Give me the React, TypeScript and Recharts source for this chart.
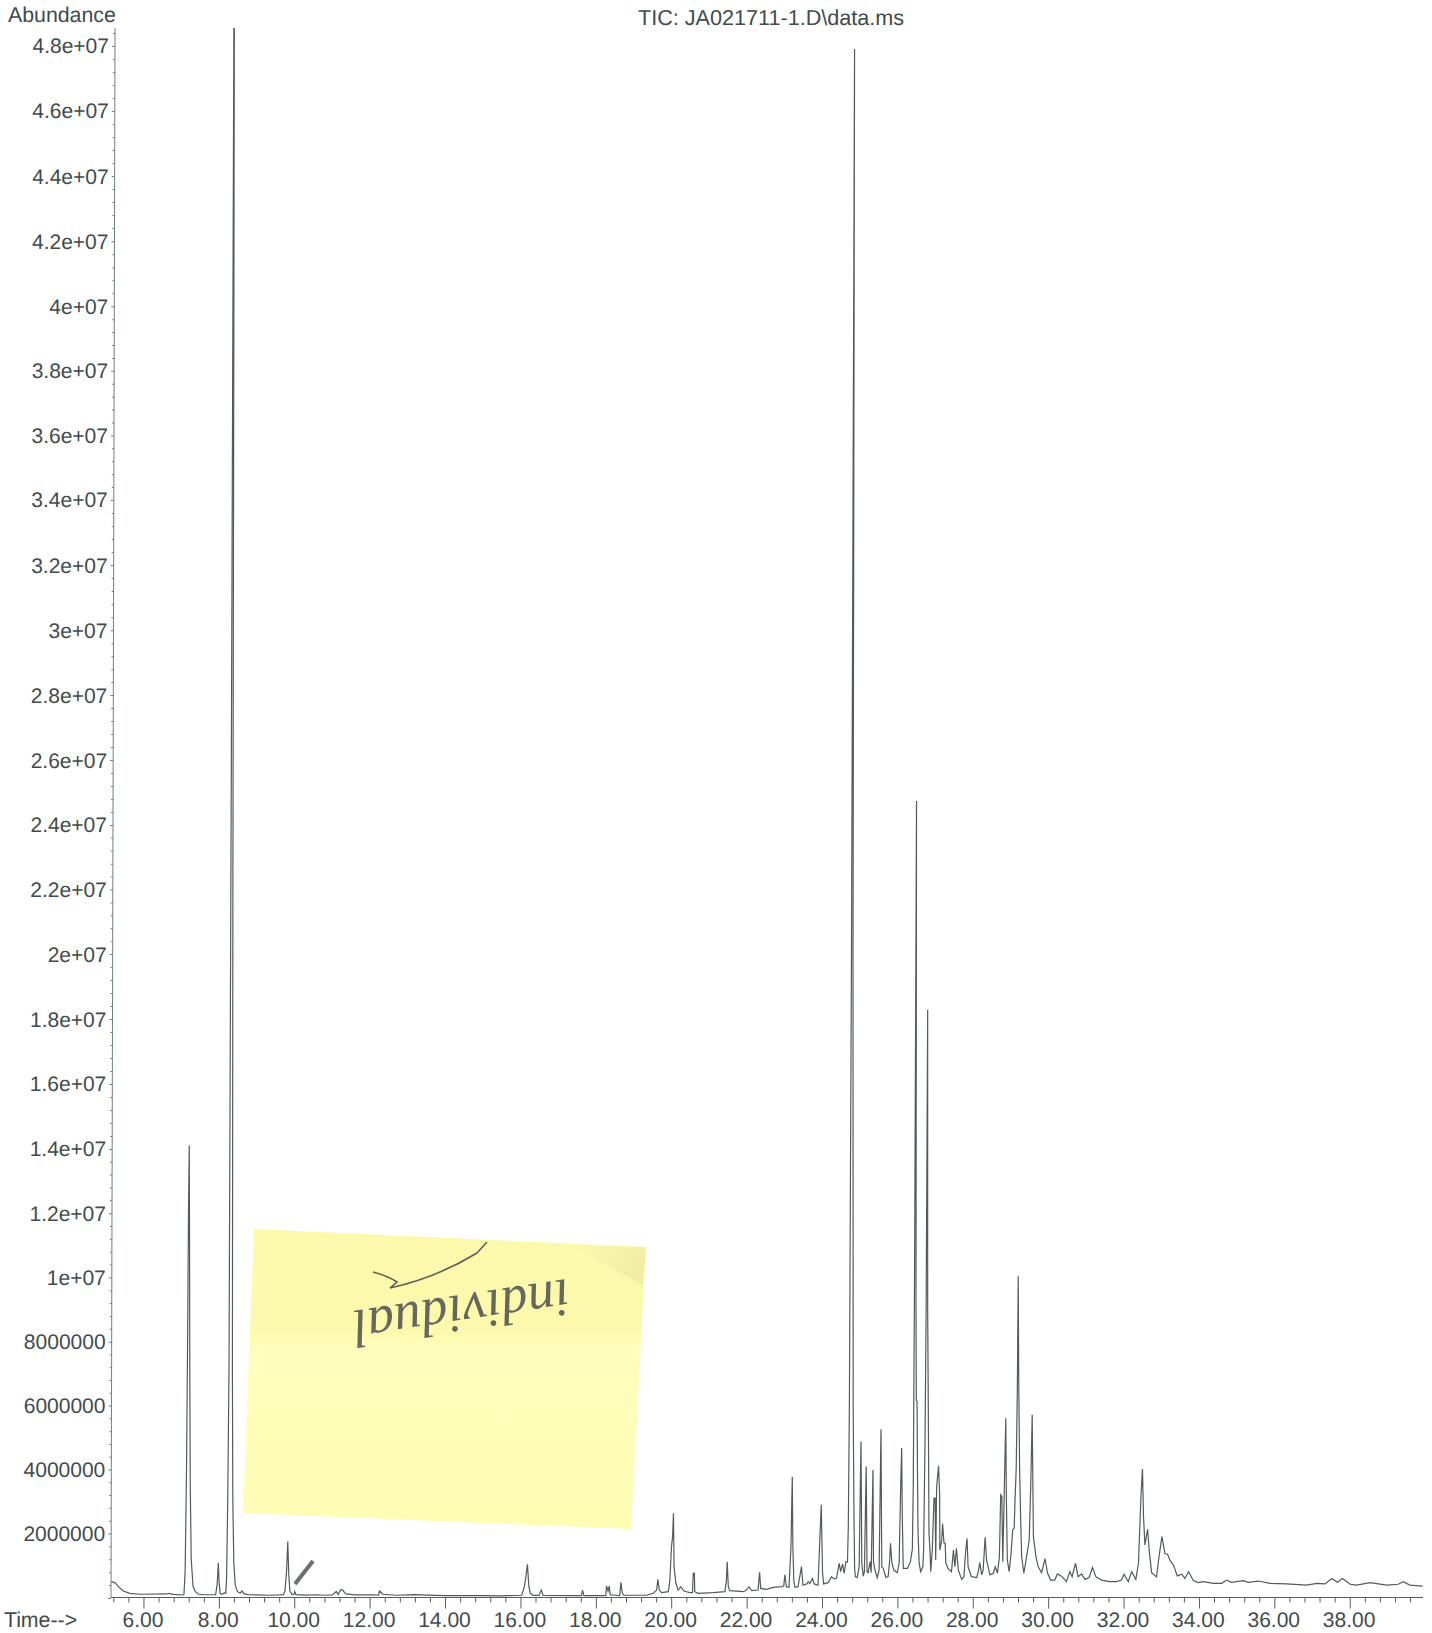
import { ComposedChart, Line, XAxis, YAxis } from "recharts";

// abundance in thousands of counts as [minutes, kcounts]
const solventRegion = [
  [5.12, 490], [5.23, 460], [5.32, 336], [5.45, 201], [5.63, 129], [5.89, 100], [6.6, 110], [6.65, 130], [6.78, 95], [7.04, 78],
  [7.06, 100], [7.09, 800], [7.12, 4000], [7.14, 8000], [7.155, 12000], [7.17, 14000], [7.185, 11000], [7.2, 7000], [7.22, 3500],
  [7.25, 1200], [7.3, 350], [7.36, 180], [7.45, 100], [7.6, 85], [7.9, 85], [7.94, 400], [7.97, 1070], [7.99, 500], [8.02, 120],
  [8.07, 100], [8.13, 140], [8.17, 130], [8.19, 600], [8.215, 3000], [8.24, 7000], [8.26, 25000], [8.278, 48600], [8.29, 48600],
  [8.31, 22000], [8.33, 7000], [8.35, 3000], [8.38, 1100], [8.42, 380], [8.48, 180], [8.55, 140], [8.6, 200], [8.65, 120], [8.75, 90],
];

const lightRegion = [
  [9.0, 80], [9.3, 70], [9.6, 80], [9.7, 90], [9.74, 200], [9.78, 800], [9.81, 1730], [9.84, 700], [9.87, 200], [9.93, 90], [9.98, 100],
  [10.0, 180], [10.03, 90], [10.3, 75], [10.6, 85], [10.8, 70], [11.0, 80], [11.1, 190], [11.15, 90], [11.22, 240], [11.27, 230], [11.35, 110],
  [11.6, 80], [12.1, 80], [12.22, 70], [12.25, 200], [12.33, 100], [12.7, 70], [13.0, 80], [13.2, 90], [13.5, 75], [14.0, 60], [14.5, 60],
  [15.0, 55], [15.4, 50], [16.02, 70], [16.09, 335], [16.13, 645], [16.17, 1030], [16.21, 335], [16.25, 130], [16.32, 65], [16.48, 65],
  [16.54, 230], [16.59, 65], [17.4, 55], [17.61, 60], [17.63, 230], [17.67, 60], [18.1, 55], [18.25, 60], [18.27, 355], [18.31, 200],
  [18.34, 355], [18.37, 80], [18.5, 70], [18.62, 60], [18.65, 470], [18.69, 130], [18.73, 70], [19.33, 70], [19.51, 130], [19.6, 230],
  [19.63, 560], [19.67, 230], [19.73, 150], [19.91, 180], [19.95, 540], [19.99, 1570], [20.02, 1900], [20.04, 2610], [20.06, 960], [20.11, 440],
];

const midRegion = [
  [20.17, 230], [20.24, 335], [20.32, 200], [20.48, 150], [20.55, 150], [20.57, 750], [20.6, 750], [20.61, 180], [20.7, 130], [21.1, 150],
  [21.41, 180], [21.45, 540], [21.47, 1110], [21.5, 335], [21.54, 210], [21.9, 180], [21.98, 230], [22.05, 335], [22.12, 210], [22.29, 230],
  [22.33, 780], [22.36, 280], [22.51, 250], [22.69, 315], [22.91, 335], [22.97, 355], [23.0, 700], [23.04, 335], [23.11, 315], [23.16, 1570],
  [23.19, 3735], [23.21, 1570], [23.24, 490], [23.27, 315], [23.35, 335], [23.44, 955], [23.48, 380], [23.58, 420], [23.62, 490], [23.66, 430],
  [23.73, 590], [23.78, 420], [23.88, 380], [23.96, 2870], [24.0, 750], [24.03, 420], [24.15, 460], [24.24, 645], [24.3, 575], [24.37, 595],
  [24.44, 1060], [24.48, 800], [24.53, 1040], [24.57, 750], [24.62, 1110], [24.66, 1100],
];

const denseRegion = [
  [24.68, 2200], [24.7, 6000], [24.725, 20000], [24.745, 47950], [24.765, 20000], [24.8, 6000], [24.83, 2500], [24.85, 900], [24.87, 640],
  [24.92, 620], [24.97, 950], [25.01, 4830], [25.04, 1060], [25.08, 660], [25.11, 800], [25.15, 4055], [25.18, 800], [25.21, 770], [25.26, 1110],
  [25.29, 770], [25.33, 3950], [25.35, 1110], [25.39, 850], [25.45, 615], [25.5, 850], [25.54, 5210], [25.57, 950], [25.61, 900], [25.68, 620],
  [25.74, 645], [25.78, 1160], [25.8, 1680], [25.84, 1060], [25.89, 850], [25.98, 770], [26.03, 1060], [26.07, 3640], [26.09, 4625], [26.11, 2600],
  [26.14, 900], [26.25, 900], [26.33, 1110], [26.38, 1500], [26.4, 3500], [26.42, 10000], [26.44, 24660], [26.46, 9000], [26.475, 6100],
  [26.495, 6070], [26.51, 3960], [26.53, 2000], [26.56, 1100], [26.6, 800], [26.66, 950], [26.68, 1500], [26.71, 5000], [26.73, 9000],
  [26.75, 18200], [26.77, 9000], [26.8, 5000], [26.82, 2000], [26.85, 1420], [26.87, 800], [26.91, 1500], [26.95, 3075], [26.98, 3075],
  [27.0, 1160], [27.02, 3430], [27.07, 4075], [27.1, 3200], [27.11, 1470], [27.16, 1780], [27.18, 2290], [27.22, 1680], [27.25, 1680], [27.27, 1060],
  [27.33, 900], [27.42, 800], [27.47, 1470], [27.51, 950], [27.55, 1520], [27.6, 850], [27.69, 560], [27.75, 645], [27.79, 1370], [27.83, 1830],
  [27.86, 950], [27.95, 645], [28.09, 620], [28.13, 800], [28.17, 1080], [28.22, 700], [28.26, 850], [28.31, 1865], [28.35, 1160], [28.44, 700],
  [28.53, 750], [28.58, 950], [28.64, 750], [28.69, 1260], [28.72, 3180], [28.75, 3130], [28.78, 1110], [28.82, 3640], [28.85, 5550], [28.87, 3130],
  [28.9, 1160], [28.95, 800], [29.0, 1370], [29.04, 2090], [29.08, 2150], [29.1, 3000], [29.13, 4000], [29.155, 6500], [29.17, 9950], [29.19, 6800],
  [29.22, 4000], [29.25, 2500], [29.28, 1260], [29.34, 750], [29.41, 1260], [29.48, 1780], [29.52, 3640], [29.55, 5660], [29.59, 1890], [29.66, 1260],
  [29.72, 950], [29.81, 770], [29.9, 1200], [29.97, 750], [30.05, 540], [30.16, 540], [30.23, 730], [30.34, 660], [30.47, 490], [30.56, 800],
  [30.62, 645], [30.71, 1060], [30.78, 645], [30.87, 730], [30.96, 560], [31.07, 620], [31.16, 930], [31.25, 645],
];

const tailRegion = [
  [31.4, 540], [31.62, 490], [31.8, 490], [31.93, 540], [32.0, 720], [32.11, 490], [32.2, 800], [32.31, 560], [32.38, 1060], [32.44, 3130],
  [32.48, 3975], [32.51, 2500], [32.55, 1630], [32.62, 2110], [32.67, 1380], [32.73, 770], [32.86, 640], [32.93, 1320], [33.0, 1885], [33.08, 1360],
  [33.15, 1340], [33.22, 1140], [33.31, 1000], [33.41, 670], [33.53, 720], [33.61, 590], [33.71, 800], [33.84, 520], [33.97, 460], [34.1, 490],
  [34.37, 440], [34.59, 440], [34.72, 540], [34.85, 470], [35.16, 520], [35.29, 470], [35.56, 510], [35.87, 440], [36.31, 420], [36.84, 385],
  [37.11, 440], [37.33, 420], [37.51, 590], [37.66, 470], [37.79, 590], [38.0, 410], [38.17, 385], [38.52, 460], [38.97, 385], [39.27, 410],
  [39.41, 490], [39.58, 385], [39.92, 350],
];

const rows = [...solventRegion, ...lightRegion, ...midRegion, ...denseRegion, ...tailRegion].map(([t, k]) => ({ t, abundance: k * 1000 }));

const timeTicks: number[] = [];
for (let i = 13; i <= 99; i++) timeTicks.push(i * 0.4);

const abundanceTicks: number[] = [];
for (let i = 0; i <= 121; i++) abundanceTicks.push(i * 400000);

// the scan stretches the printed y axis a little: [value, px the tick sits lower]
const scanDrift = [
  [0, 1], [2000000, 1], [8000000, 3], [14000000, 4], [20000000, 3], [24000000, 3], [30000000, 2], [34000000, 1], [40000000, 1], [48000000, -1], [48400000, -1],
];

const TEXT = "#414b4b";
const FONT = "Liberation Sans";
const FONT_SIZE = 21;

function driftAt(v: number) {
  for (let i = 1; i < scanDrift.length; i++) {
    const [v0, d0] = scanDrift[i - 1];
    const [v1, d1] = scanDrift[i];
    if (v <= v1) return d0 + ((d1 - d0) * (v - v0)) / (v1 - v0);
  }
  return 0;
}

function fmtAbundance(v: number) {
  if (v >= 10000000) return `${+(v / 10000000).toFixed(1)}e+07`;
  return String(v);
}

function TimeTick(props: any) {
  const { x, y, payload } = props;
  const major = Math.round(payload.value / 0.4) % 5 === 0;
  return (
    <g>
      <line x1={x} x2={x} y1={y} y2={y + (major ? 11 : 5)} stroke="#555f5f" strokeWidth={1} />
      {major && (
        <text x={x - 1} y={y + 30} textAnchor="middle" fontSize={FONT_SIZE} fontFamily={FONT} fill={TEXT}>
          {payload.value.toFixed(2)}
        </text>
      )}
    </g>
  );
}

function AbundanceTick(props: any) {
  const { x, y, payload } = props;
  const major = Math.round(payload.value / 400000) % 5 === 0;
  const ty = y + driftAt(payload.value);
  return (
    <g>
      <line x1={x} x2={x - (major ? 3 : 2)} y1={ty} y2={ty} stroke="#6d8282" strokeWidth={1} />
      {major && payload.value > 0 && (
        <text x={x - 6} y={ty + 7} textAnchor="end" fontSize={FONT_SIZE} fontFamily={FONT} fill={TEXT}>
          {fmtAbundance(payload.value)}
        </text>
      )}
    </g>
  );
}

function StickyNote() {
  return (
    <svg width={1432} height={1633} style={{ position: "absolute", left: 0, top: 0, pointerEvents: "none" }}>
      <defs>
        <linearGradient id="noteFill" x1="0" y1="0" x2="0" y2="1">
          <stop offset="0" stopColor="#fdf9ac" />
          <stop offset="0.33" stopColor="#fdf9ac" />
          <stop offset="0.4" stopColor="#fffdbc" />
          <stop offset="1" stopColor="#fffcb4" />
        </linearGradient>
        <linearGradient id="noteCorner" x1="0" y1="0" x2="1" y2="0.4">
          <stop offset="0" stopColor="#fdf9ac" />
          <stop offset="1" stopColor="#f1eda4" />
        </linearGradient>
      </defs>
      <polygon points="254,1229 646,1247 631,1529 243,1513" fill="url(#noteFill)" />
      <polygon points="570,1245 646,1247 643,1285" fill="url(#noteCorner)" />
      <text
        transform="translate(459,1295) rotate(171.5)"
        textAnchor="middle"
        fontSize={54}
        fontStyle="italic"
        fontFamily="Liberation Serif"
        fill="#66685e"
      >
        individual
      </text>
      <path d="M487,1242 L477,1253 Q436,1278 390,1288 L397,1282 Q388,1276 373,1272" fill="none" stroke="#5f6158" strokeWidth={1.6} />
      <line x1={295} y1={1584} x2={313} y2={1561} stroke="#6a6f6f" strokeWidth={4} />
    </svg>
  );
}

export default function App() {
  return (
    <div style={{ position: "absolute", left: 0, top: 0, width: 1432, height: 1633, background: "#fff", overflow: "hidden" }}>
      <div style={{ transform: "skewX(-0.147deg)", transformOrigin: "0 1597px", width: 1432, height: 1633 }}>
        <ComposedChart width={1432} height={1633} data={rows} margin={{ top: 28, right: 9, bottom: 0, left: 0 }}>
          <XAxis
            dataKey="t"
            type="number"
            domain={[5.125, 39.93]}
            ticks={timeTicks}
            interval={0}
            height={35.5}
            tickSize={0}
            tickMargin={0}
            tick={<TimeTick />}
            stroke="#555f5f"
            allowDataOverflow
          />
          <YAxis
            type="number"
            domain={[0, 48600000]}
            ticks={abundanceTicks}
            interval={0}
            width={111}
            tickSize={0}
            tickMargin={0}
            tick={<AbundanceTick />}
            stroke="#6d8282"
            allowDataOverflow
          />
          <Line dataKey="abundance" type="linear" dot={false} stroke="#525b5a" strokeWidth={1.2} isAnimationActive={false} />
          <text x={4} y={22} fontSize={21.3} fontFamily={FONT} fill={TEXT}>Abundance</text>
          <text x={767} y={25} textAnchor="middle" fontSize={21.6} fontFamily={FONT} fill={TEXT}>TIC: JA021711-1.D\data.ms</text>
          <text x={4} y={1627} fontSize={21.3} fontFamily={FONT} fill={TEXT}>Time--&gt;</text>
        </ComposedChart>
      </div>
      <StickyNote />
    </div>
  );
}
